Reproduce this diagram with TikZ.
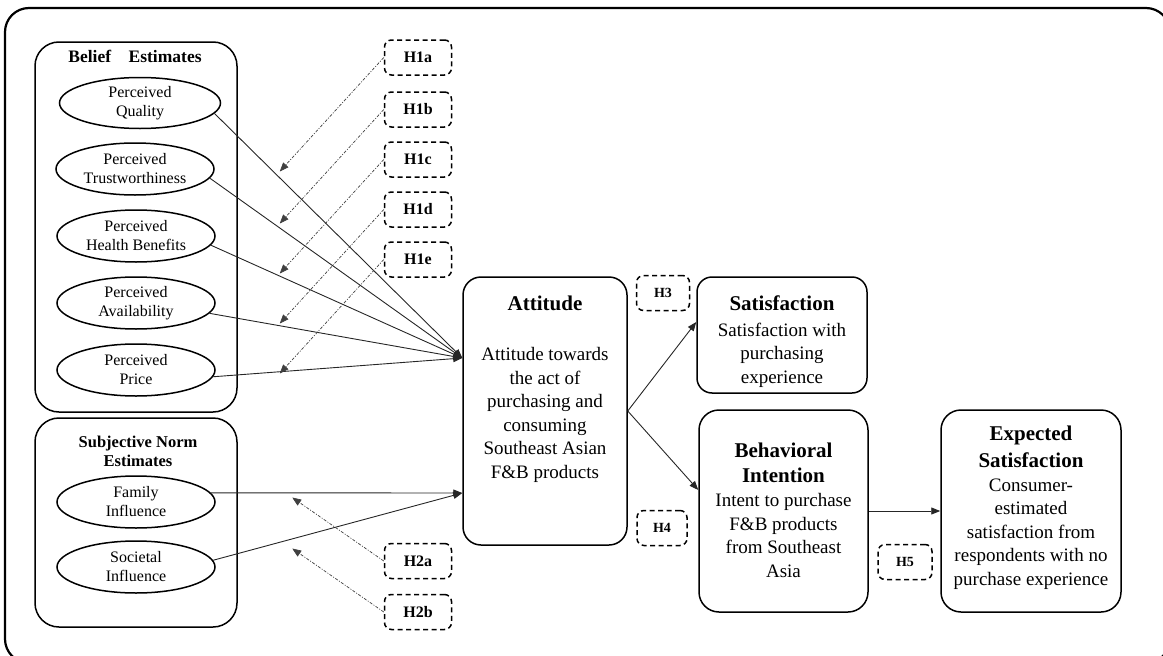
\documentclass[tikz,border=0pt]{standalone}
\usepackage{fontspec}
\setmainfont{Liberation Serif}
\usetikzlibrary{arrows.meta,positioning,shapes.geometric}

\newcommand{\ctitle}{\fontsize{21}{25}\selectfont\bfseries}

\tikzset{
  group/.style={draw,line width=1.5pt,rounded corners=24pt,minimum width=202pt},
  grouptitle/.style={inner sep=0pt,align=center,font=\fontsize{16.5}{19}\selectfont\bfseries},
  estimate/.style={draw,ellipse,line width=1.5pt,inner sep=0pt,minimum width=158pt,minimum height=52pt,
    align=center,font=\fontsize{16}{19}\selectfont},
  hyp/.style={draw,dash pattern=on 5pt off 3.5pt,line width=1.5pt,rounded corners=7pt,
    minimum width=67pt,minimum height=35pt,font=\fontsize{16}{19}\selectfont\bfseries},
  hypsmall/.style={hyp,minimum width=52pt,font=\fontsize{14}{17}\selectfont\bfseries},
  construct/.style={draw,line width=1.5pt,rounded corners=18pt},
  bodytext/.style={inner sep=0pt,align=center,font=\fontsize{19}{23.5}\selectfont},
  effect/.style={draw=black!85,line width=0.9pt,-{Triangle[length=9pt,width=7pt]}},
  moderate/.style={draw=black!75,line width=0.7pt,dash pattern=on 3pt off 1.5pt on 1pt off 1.5pt,
    -{Triangle[length=9pt,width=7pt]}},
}

\begin{document}
\begin{tikzpicture}[x=1pt,y=-1pt]
\useasboundingbox (0,0) rectangle (1163,656);
\draw[line width=2.2pt,rounded corners=24pt] (5,8) rectangle (1170,663);

% belief estimates
\node[group,minimum height=370pt] (belief) at (136,227) {};
\node[grouptitle,font=\fontsize{17.5}{20}\selectfont\bfseries,anchor=base] (belieftitle) at (135,62) {Belief\quad Estimates};
\node[estimate,minimum width=161pt,minimum height=51pt] (pq) at (140,103) {Perceived\\Quality};
\node[estimate] (pt) at (135,169) {Perceived\\Trustworthiness};
\node[estimate] (ph) at (136,236) {Perceived\\Health Benefits};
\node[estimate] (pa) at (136,303) {Perceived\\Availability};
\node[estimate] (pp) at (136,370) {Perceived\\Price};

% subjective norm estimates
\node[group,minimum height=209pt] (norm) at (136,522.5) {};
\node[grouptitle,anchor=north] (normtitle) at (138,436) {Subjective Norm\\Estimates};
\node[estimate] (fi) at (136,502) {Family\\Influence};
\node[estimate] (si) at (136,567) {Societal\\Influence};

% hypotheses
\node[hyp] (h1a) at (418,57.5) {H1a};
\node[hyp] (h1b) at (418,109.5) {H1b};
\node[hyp] (h1c) at (418,159.5) {H1c};
\node[hyp] (h1d) at (418,209.5) {H1d};
\node[hyp] (h1e) at (418,259.5) {H1e};
\node[hyp] (h2a) at (418,561) {H2a};
\node[hyp] (h2b) at (418,612) {H2b};
\node[hypsmall,minimum width=53pt] (h3) at (663,293) {H3};
\node[hypsmall,minimum width=50pt] (h4) at (662,528) {H4};
\node[hypsmall,minimum width=54pt] (h5) at (905,562) {H5};

% constructs
\node[construct,minimum width=164pt,minimum height=268pt] (att) at (545,411) {};
\node[bodytext,anchor=north] (atttext) at (545,296) {\ctitle Attitude\\[26.5pt]Attitude towards\\the act of\\purchasing and\\consuming\\Southeast Asian\\F\&B products};
\node[construct,rounded corners=15pt,minimum width=170pt,minimum height=116pt] (sat) at (782,335) {};
\node[bodytext,anchor=north] (sattext) at (782,295.5) {\ctitle Satisfaction\\[2.5pt]Satisfaction with\\purchasing\\experience};
\node[construct,rounded corners=20pt,minimum width=169pt,minimum height=202pt] (bi) at (783.5,511) {};
\node[bodytext,anchor=north] (bitext) at (783.5,443) {\ctitle Behavioral\\[1.5pt]\ctitle Intention\\[0.5pt]Intent to purchase\\F\&B products\\from Southeast\\Asia};
\node[construct,rounded corners=20pt,minimum width=180pt,minimum height=202pt] (es) at (1031,511) {};
\node[bodytext,anchor=north] (estext) at (1031,426) {\ctitle Expected\\[3.5pt]\ctitle Satisfaction\\Consumer-\\estimated\\satisfaction from\\respondents with no\\purchase experience};

% paths
\coordinate (attin) at ([yshift=53pt]att.west);
\coordinate (attlow) at ([yshift=-82pt]att.west);
\draw[effect] (pq.-8) -- (attin);
\draw[effect] (pt.-7) -- (attin);
\draw[effect] (ph.-7) -- (attin);
\draw[effect] (pa.-8) -- (attin);
\draw[effect] (pp.-5) -- (attin);
\draw[effect] (fi.7) -- (attlow);
\draw[effect] (si.5) -- (attlow);
\draw[effect] (att.east) -- ([yshift=13pt]sat.west);
\draw[effect] (att.east) -- ([yshift=21pt]bi.west);
\draw[effect] (bi.east) -- (es.west);

% moderating arrows
\foreach \h in {1a,1b,1c,1d,1e}{
  \path (h\h.west) ++(-104,114) coordinate (tip\h);
  \draw[moderate] (h\h.west) -- (tip\h);
}
\foreach \h in {2a,2b}{
  \path (h\h.west) ++(-91.5,-63.5) coordinate (tip\h);
  \draw[moderate] (h\h.west) -- (tip\h);
}
\end{tikzpicture}
\end{document}
